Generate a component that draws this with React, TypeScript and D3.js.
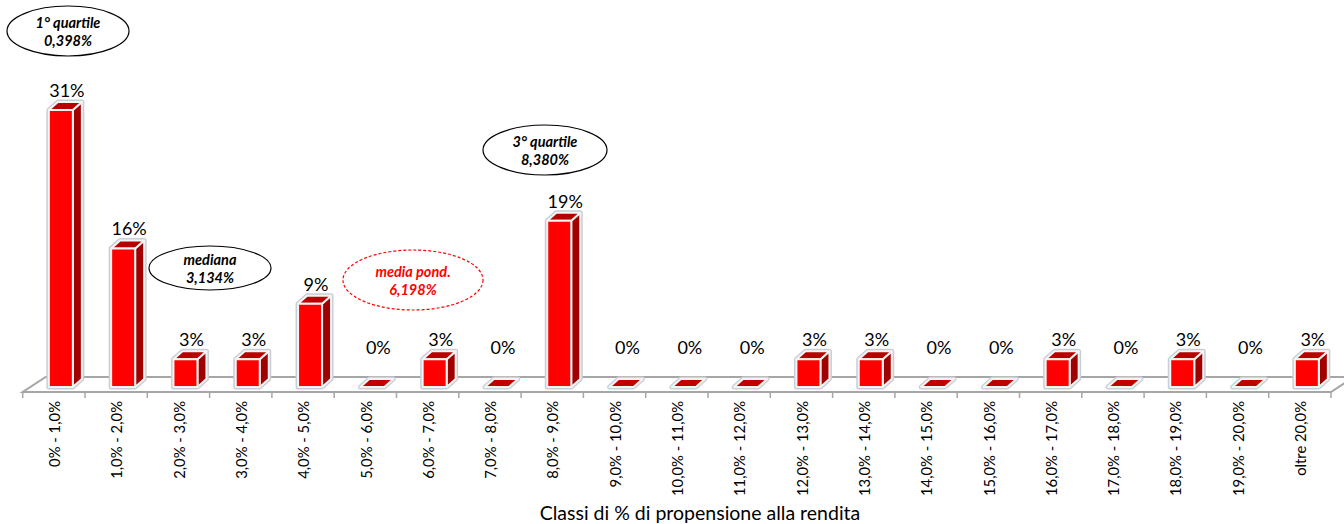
import React from "react";
import * as d3 from "d3";

const categories = [
  "0% - 1,0%", "1,0% - 2,0%", "2,0% - 3,0%", "3,0% - 4,0%", "4,0% - 5,0%",
  "5,0% - 6,0%", "6,0% - 7,0%", "7,0% - 8,0%", "8,0% - 9,0%", "9,0% - 10,0%",
  "10,0% - 11,0%", "11,0% - 12,0%", "12,0% - 13,0%", "13,0% - 14,0%", "14,0% - 15,0%",
  "15,0% - 16,0%", "16,0% - 17,0%", "17,0% - 18,0%", "18,0% - 19,0%", "19,0% - 20,0%",
  "oltre 20,0%",
];
const values = [
  31.25, 15.63, 3.13, 3.13, 9.38, 0, 3.13, 0, 18.75, 0,
  0, 0, 3.13, 3.13, 0, 0, 3.13, 0, 3.13, 0, 3.13,
];
const axisTitle = "Classi di % di propensione alla rendita";
const annotations = [
  { lines: ["1° quartile", "0,398%"], cx: 68, cy: 31, rx: 61, ry: 25, red: false },
  { lines: ["mediana", "3,134%"], cx: 210, cy: 268, rx: 61, ry: 22, red: false },
  { lines: ["media pond.", "6,198%"], cx: 413, cy: 280, rx: 70, ry: 30, red: true },
  { lines: ["3° quartile", "8,380%"], cx: 545, cy: 150, rx: 62, ry: 25, red: false },
];

const W = 1344;
const H = 524;
const FONT = "Lato, 'Open Sans', sans-serif";

export default function App() {
  const x0 = 22.7;
  const x1 = 1331;
  const frontY = 392;
  const backY = 377;
  const floorDx = 23;
  const base = 387;

  const x = d3.scaleBand<string>().domain(categories).range([x0, x1]).padding(0);
  const y = d3.scaleLinear().domain([0, 31.25]).range([base, 110]);
  const fmt = (v: number) => d3.format(".0f")(v) + "%";

  const bw = 24;
  const dx = 9;
  const dy = -8;

  const pts = (p: number[][]) => p.map((q) => q.join(",")).join(" ");

  return (
    <svg width={W} height={H} style={{ position: "absolute", left: 0, top: 0, background: "#fff" }}>
      {/* floor */}
      <polygon
        points={pts([
          [x0, frontY],
          [x1, frontY],
          [x1 + floorDx, backY],
          [x0 + floorDx, backY],
        ])}
        fill="#ffffff"
        stroke="#a6a6a6"
        strokeWidth={2}
      />
      {d3.range(categories.length + 1).map((i) => {
        const tx = x0 + i * x.step();
        return <line key={"t" + i} x1={tx} x2={tx} y1={frontY} y2={frontY + 6} stroke="#a6a6a6" strokeWidth={1.5} />;
      })}

      {/* bars */}
      {categories.map((c, i) => {
        const v = values[i];
        const cx = (x(c) as number) + x.bandwidth() / 2;
        const bx = cx - 5;
        if (v <= 0) {
          const poly = pts([
            [bx, base],
            [bx + dx, base + dy],
            [bx + bw + dx, base + dy],
            [bx + bw, base],
          ]);
          return (
            <g key={c}>
              <polygon points={poly} fill="none" stroke="#cdd2d9" strokeWidth={5} strokeLinejoin="round" />
              <polygon points={poly} fill="#c00000" stroke="#f4f4f4" strokeWidth={2} strokeLinejoin="round" />
            </g>
          );
        }
        const top = y(v);
        const front = pts([
          [bx, top],
          [bx + bw, top],
          [bx + bw, base],
          [bx, base],
        ]);
        const side = pts([
          [bx + bw, top],
          [bx + bw + dx, top + dy],
          [bx + bw + dx, base + dy],
          [bx + bw, base],
        ]);
        const topF = pts([
          [bx, top],
          [bx + dx, top + dy],
          [bx + bw + dx, top + dy],
          [bx + bw, top],
        ]);
        const outline = pts([
          [bx, top],
          [bx + dx, top + dy],
          [bx + bw + dx, top + dy],
          [bx + bw + dx, base + dy],
          [bx + bw, base],
          [bx, base],
        ]);
        return (
          <g key={c}>
            <polygon points={outline} fill="#fff" stroke="#c9ced6" strokeWidth={5} strokeLinejoin="round" />
            <polygon points={side} fill="#a00000" stroke="#f4f4f4" strokeWidth={2} strokeLinejoin="round" />
            <polygon points={topF} fill="#b80000" stroke="#f4f4f4" strokeWidth={2} strokeLinejoin="round" />
            <polygon points={front} fill="#ff0000" stroke="#f4f4f4" strokeWidth={2} strokeLinejoin="round" />
          </g>
        );
      })}

      {/* value labels */}
      {categories.map((c, i) => {
        const v = values[i];
        const cx = (x(c) as number) + x.bandwidth() / 2;
        const ly = v > 0 ? y(v) - 13 : base - 33;
        return (
          <text key={"l" + c} x={cx + 13} y={ly} textAnchor="middle" fontFamily={FONT} fontSize={18} fill="#000">
            {fmt(v)}
          </text>
        );
      })}

      {/* category labels */}
      {categories.map((c) => {
        const cx = (x(c) as number) + x.bandwidth() / 2;
        return (
          <text
            key={"c" + c}
            transform={`translate(${cx + 1},${frontY + 9}) rotate(-90)`}
            textAnchor="end"
            dy="0.35em"
            fontFamily={FONT}
            fontSize={14.8}
            fill="#000"
          >
            {c}
          </text>
        );
      })}

      {/* axis title */}
      <text x={700} y={520} textAnchor="middle" fontFamily={FONT} fontSize={19.5} fill="#000">
        {axisTitle}
      </text>

      {/* annotations */}
      {annotations.map((a, i) => (
        <g key={"a" + i}>
          <ellipse
            cx={a.cx}
            cy={a.cy}
            rx={a.rx}
            ry={a.ry}
            fill="#fff"
            stroke={a.red ? "#ff0000" : "#000"}
            strokeWidth={1.2}
            strokeDasharray={a.red ? "3,2" : undefined}
          />
          {a.lines.map((l, j) => (
            <text
              key={j}
              x={a.cx}
              y={a.cy - 3 + j * 18}
              textAnchor="middle"
              fontFamily={FONT}
              fontSize={14.5}
              fontWeight="bold"
              fontStyle="italic"
              fill={a.red ? "#ff0000" : "#000"}
            >
              {l}
            </text>
          ))}
        </g>
      ))}
    </svg>
  );
}
